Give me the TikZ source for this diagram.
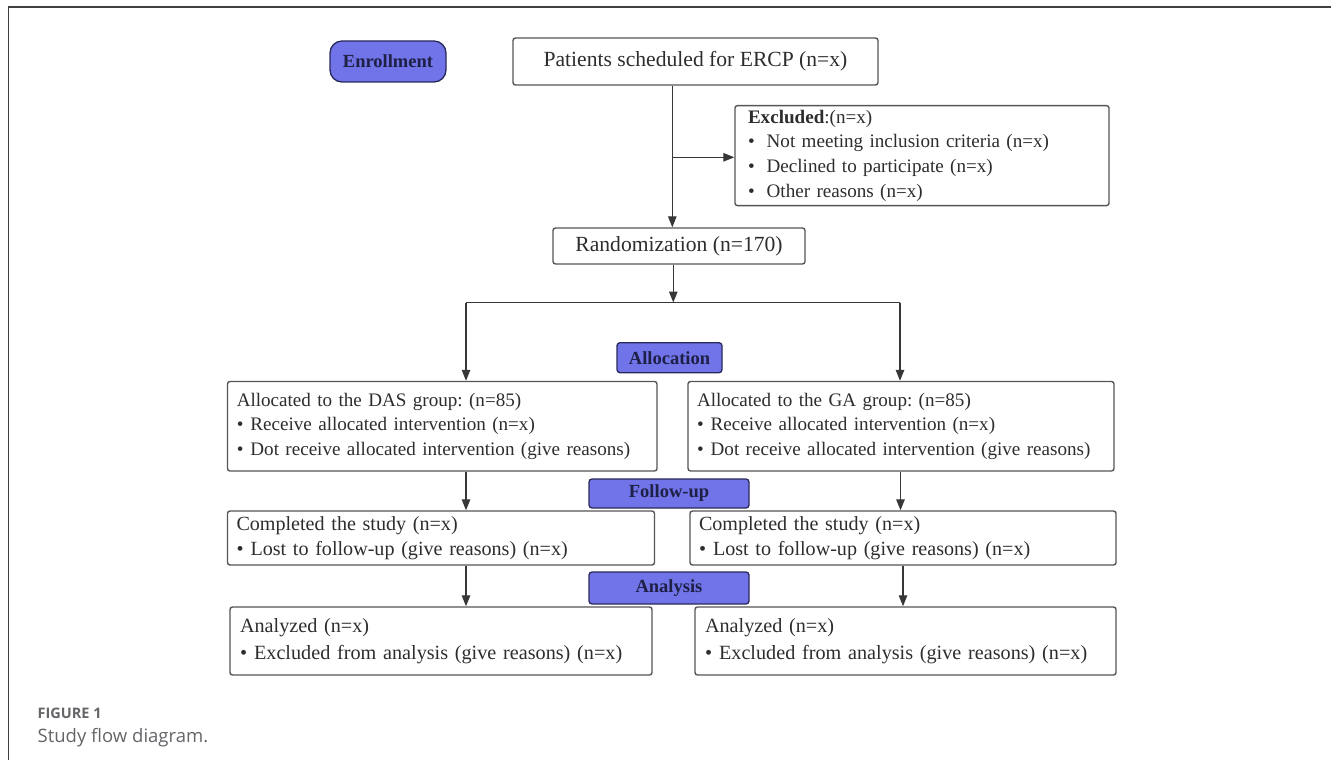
\documentclass[tikz,border=0pt]{standalone}
\usepackage{fontspec}
\setmainfont{Liberation Serif}
\newfontfamily\capfont{Open Sans}
\usetikzlibrary{arrows.meta}
\frenchspacing
\definecolor{lbl}{RGB}{112,116,232}
\definecolor{lbldraw}{RGB}{40,42,90}
\definecolor{lbltext}{RGB}{30,32,70}
\definecolor{boxdraw}{RGB}{85,85,85}
\definecolor{txt}{RGB}{45,45,45}
\definecolor{arrc}{RGB}{55,55,55}
\definecolor{capc}{RGB}{100,100,105}
\tikzset{
  box/.style={draw=boxdraw, line width=1.4pt, rounded corners=2.5pt, inner sep=0pt, text=txt},
  lbox/.style={box, align=left, font=\fontsize{19.1}{24.3}\selectfont},
  tag/.style={draw=lbldraw, fill=lbl, line width=1.3pt, rounded corners=3pt, inner sep=0pt,
    text=lbltext, font=\fontsize{18.5}{20}\selectfont\bfseries},
  arr/.style={draw=arrc, line width=1.3pt, -{Triangle[length=11pt,width=8.5pt]}},
  ln/.style={draw=arrc, line width=1.3pt},
}
\begin{document}
\begin{tikzpicture}[x=1pt,y=-1pt]
\useasboundingbox (0,0) rectangle (1331,760);
% outer frame
\draw[line width=1.5pt, draw=black!75] (8.5,760) -- (8.5,7) -- (1331,7);

% label tags
\node[tag, rounded corners=12pt, minimum width=116pt, minimum height=41pt] (enr) at (388,61.5) {Enrollment};
\node[tag, minimum width=105pt, minimum height=30pt] (alloc) at (669.5,357.7) {Allocation};
\node[tag, minimum width=160pt, minimum height=29pt] (fol) at (669,493.5) {Follow-up};
\node[tag, minimum width=160pt, minimum height=32pt] (ana) at (669,588) {Analysis};

% main boxes
\node[box, minimum width=365pt, minimum height=47pt, font=\fontsize{21.6}{24}\selectfont] (pat) at (695.5,61.5) {Patients scheduled for ERCP (n=x)};
\node[box, minimum width=252pt, minimum height=36pt, font=\fontsize{21.6}{24}\selectfont] (rand) at (679,246) {Randomization (n=170)};

\node[lbox, minimum width=374pt, minimum height=100pt, text width=348pt, font=\fontsize{19.1}{24.7}\selectfont] (exc) at (922,155.6)
 {\textbf{Excluded}:(n=x)\\
  \textbullet\hspace{12pt}Not meeting inclusion criteria (n=x)\\
  \textbullet\hspace{12pt}Declined to participate (n=x)\\
  \textbullet\hspace{12pt}Other reasons (n=x)};

\node[lbox, minimum width=429.5pt, minimum height=89.5pt, text width=411pt] (das) at (442.25,426.25)
 {Allocated to the DAS group: (n=85)\\
  \textbullet\hspace{7pt}Receive allocated intervention (n=x)\\
  \textbullet\hspace{7pt}Dot receive allocated intervention (give reasons)};
\node[lbox, minimum width=426pt, minimum height=89.5pt, text width=408pt] (ga) at (901,426.25)
 {Allocated to the GA group: (n=85)\\
  \textbullet\hspace{7pt}Receive allocated intervention (n=x)\\
  \textbullet\hspace{7pt}Dot receive allocated intervention (give reasons)};

\node[lbox, minimum width=427pt, minimum height=54pt, text width=409pt, font=\fontsize{20.1}{24.7}\selectfont] (cl) at (441,538)
 {Completed the study (n=x)\\
  \textbullet\hspace{7pt}Lost to follow-up (give reasons) (n=x)};
\node[lbox, minimum width=426pt, minimum height=54pt, text width=408pt, font=\fontsize{20.1}{24.7}\selectfont] (cr) at (903,538)
 {Completed the study (n=x)\\
  \textbullet\hspace{7pt}Lost to follow-up (give reasons) (n=x)};

\node[lbox, minimum width=422pt, minimum height=68pt, text width=402pt, font=\fontsize{20.2}{26.6}\selectfont] (al) at (441,641)
 {Analyzed (n=x)\\
  \textbullet\hspace{7pt}Excluded from analysis (give reasons) (n=x)};
\node[lbox, minimum width=421pt, minimum height=68pt, text width=401pt, font=\fontsize{20.2}{26.6}\selectfont] (ar) at (905.5,641)
 {Analyzed (n=x)\\
  \textbullet\hspace{7pt}Excluded from analysis (give reasons) (n=x)};

% helper coordinates
\coordinate (tr) at (672.3,0);
\coordinate (tr2) at (673.3,0);
\coordinate (split) at (673.3,302.5);
\coordinate (sl) at (466,302.5);
\coordinate (sr) at (900,302.5);
\coordinate (xl) at (466,0);
\coordinate (xr) at (900.5,0);
\coordinate (xr2) at (903,0);
\coordinate (br) at (0,157.3);

% connectors
\draw[arr] (pat.south -| tr) -- (rand.north -| tr);
\draw[arr] (br -| tr) -- (br -| exc.west);
\draw[arr] (rand.south -| tr2) -- (split);
\draw[ln] (sl) -- (sr);
\draw[arr] (sl) -- (das.north -| sl);
\draw[arr] (sr) -- (ga.north -| sr);
\draw[arr] (das.south -| xl) -- (cl.north -| xl);
\draw[arr] (ga.south -| xr) -- (cr.north -| xr);
\draw[arr] (cl.south -| xl) -- (al.north -| xl);
\draw[arr] (cr.south -| xr2) -- (ar.north -| xr2);

% caption
\node[anchor=west, inner sep=0pt, text=capc, font=\capfont\fontsize{14.5}{17}\selectfont\bfseries] (fig) at (37.5,713) {FIGURE 1};
\node[anchor=west, inner sep=0pt, text=capc, font=\capfont\fontsize{18.5}{21}\selectfont] (cap) at (37.5,738) {Study flow diagram.};
\end{tikzpicture}
\end{document}
